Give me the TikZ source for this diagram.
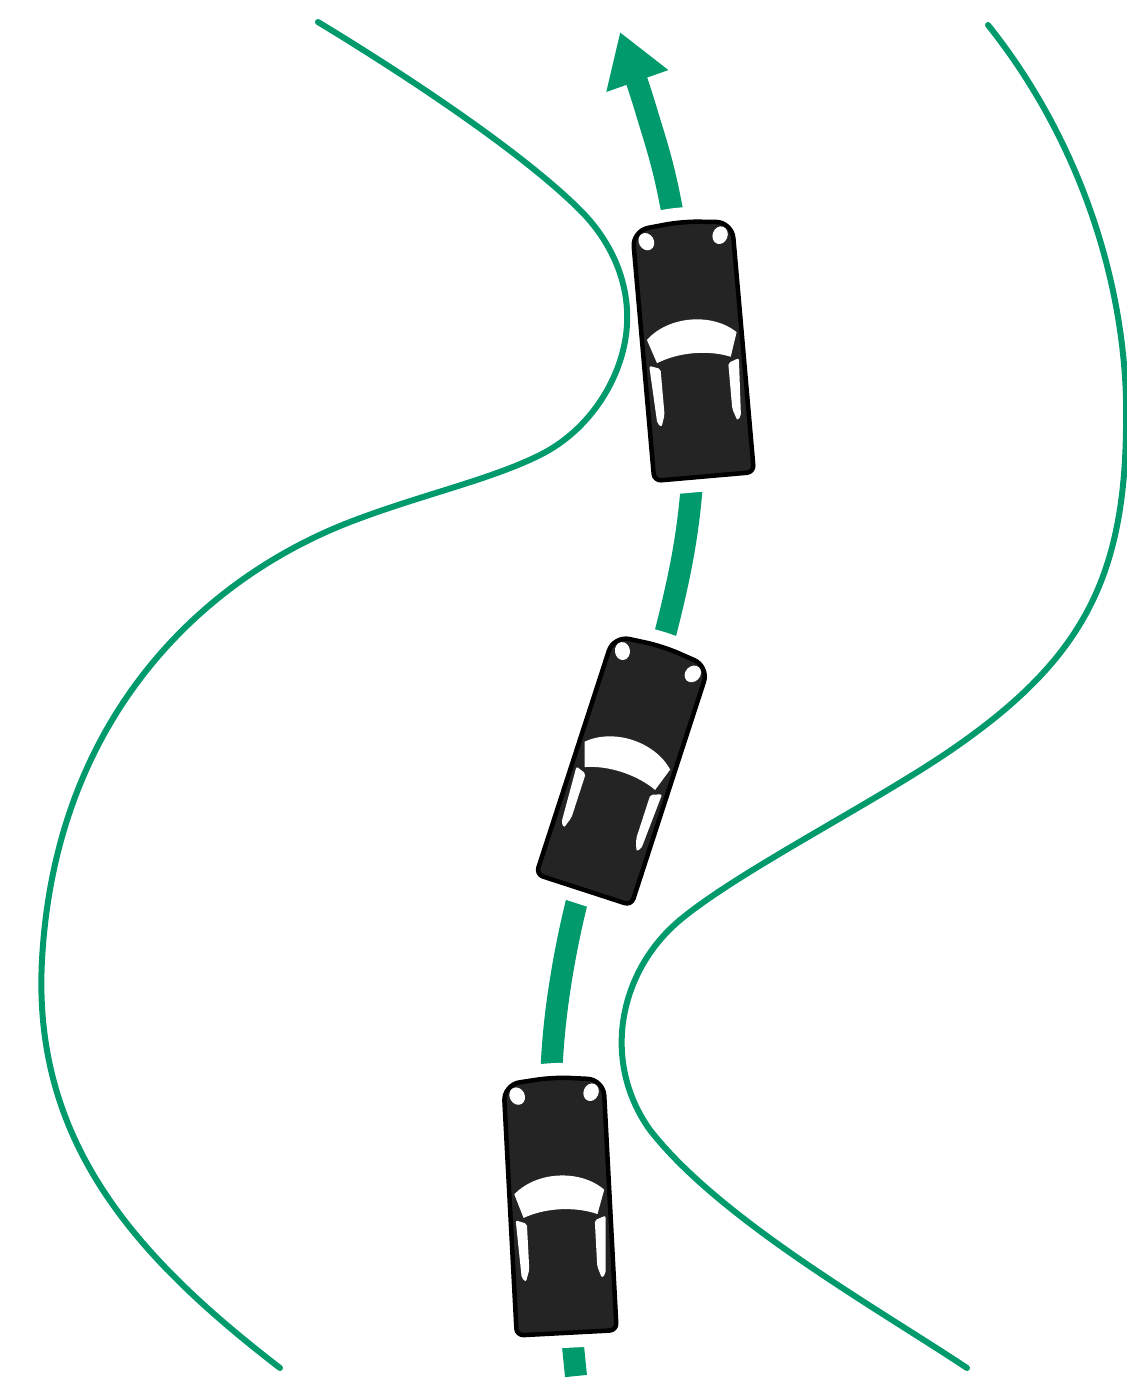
\documentclass[tikz,border=0pt]{standalone}
\usetikzlibrary{arrows.meta}
\definecolor{roadgreen}{RGB}{0,154,108}
\definecolor{carbody}{RGB}{36,36,36}
\tikzset{
  edge/.style={draw=roadgreen, line width=6pt, line cap=round},
  course/.style={draw=roadgreen, line width=22pt,
    -{Triangle[length=52pt,width=62pt]}},
  % white clearance around a car, so the course line stops short of it
  carhalo/.pic={
    \path[fill=white, draw=white, line width=30pt, line join=round]
      [rounded corners=7pt] (0,127) -- (-50,127)
      [rounded corners=16pt] -- (-50,-124) -- (0,-129) -- (50,-124)
      [rounded corners=7pt] -- (50,127) -- cycle;
  },
  % a car seen from above, front pointing to local -y
  autocar/.pic={
    \filldraw[fill=carbody, draw=black, line width=4.5pt]
      [rounded corners=7pt] (0,127) -- (-50,127)
      [rounded corners=16pt] -- (-50,-124) -- (0,-129) -- (50,-124)
      [rounded corners=7pt] -- (50,127) -- cycle;
    % headlights
    \fill[white, rotate around={25:(-37,-112)}] (-37,-112) ellipse [x radius=7.5, y radius=9];
    \fill[white, rotate around={-25:(37,-112)}] (37,-112) ellipse [x radius=7.5, y radius=9];
    % windscreen
    \fill[white] (-45,-14) .. controls (-22,-36) and (22,-36) .. (45,-14)
      -- (37,10) .. controls (15,1) and (-15,1) .. (-37,10) -- cycle;
    % side windows
    \fill[white, rounded corners=2pt]
      (-45,12) -- (-34,16) -- (-34,62) -- (-38,74) -- (-42,70) -- cycle;
    \fill[white, rounded corners=2pt]
      (45,12) -- (34,16) -- (34,62) -- (38,74) -- (42,70) -- cycle;
  },
}
\begin{document}
\begin{tikzpicture}[x=1pt, y=-1pt]
  \fill[white] (0,0) rectangle (1127,1382);
  \useasboundingbox (0,0) rectangle (1127,1382);

  % car positions
  \coordinate (car1) at (693,350);
  \coordinate (car2) at (623,769);
  \coordinate (car3) at (560,1206);
  \coordinate (start) at (576,1376);
  \coordinate (goal) at (620,32);

  % course driven through the bends
  \draw[course] plot[smooth, tension=0.6] coordinates {
    (start) (car3) (552,1060) (576,905) (car2) (668,623) (691,495)
    (car1) (670,200) (646,110) (goal)};

  % clearance around the cars
  \pic[rotate=5] at (car1) {carhalo};
  \pic[rotate=-18] at (car2) {carhalo};
  \pic[rotate=3] at (car3) {carhalo};

  % left edge of the road
  \draw[edge] (318,22) .. controls (430,90) and (530,160) .. (580,210)
    .. controls (615,245) and (632,290) .. (626,335)
    .. controls (620,380) and (590,430) .. (540,455)
    .. controls (490,480) and (420,495) .. (350,522)
    .. controls (200,580) and (55,720) .. (42,960)
    .. controls (32,1145) and (140,1260) .. (280,1368);

  % right edge of the road
  \draw[edge] (988,25) .. controls (1080,140) and (1130,290) .. (1126,430)
    .. controls (1124,580) and (1080,660) .. (957,746)
    .. controls (880,800) and (740,870) .. (680,920)
    .. controls (620,970) and (600,1060) .. (650,1130)
    .. controls (720,1220) and (880,1310) .. (967,1368);

  % the cars
  \pic[rotate=5] at (car1) {autocar};
  \pic[rotate=-18] at (car2) {autocar};
  \pic[rotate=3] at (car3) {autocar};
\end{tikzpicture}
\end{document}
